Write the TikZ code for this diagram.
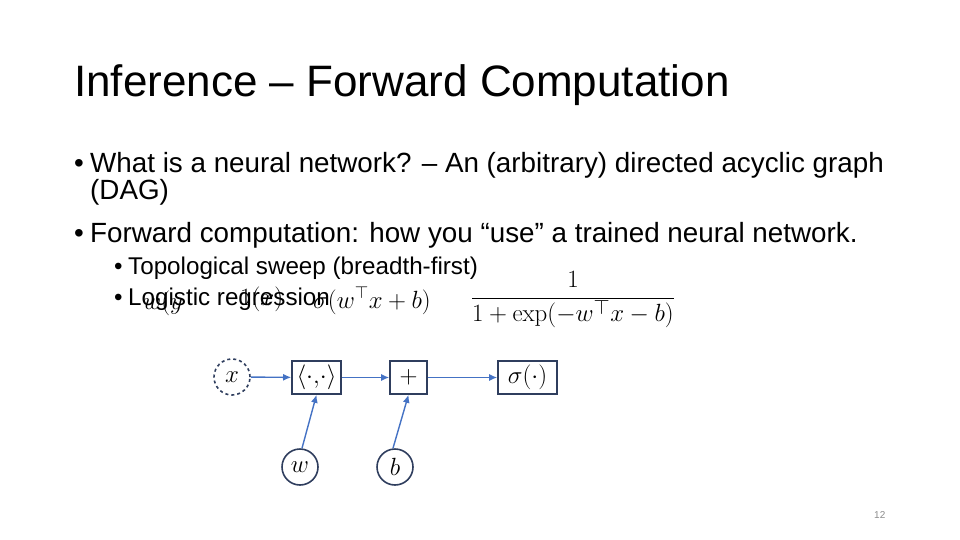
\documentclass[tikz,border=0pt]{standalone}
\usepackage[no-math]{fontspec}
\setmainfont{Liberation Sans}
\usetikzlibrary{positioning,arrows.meta}

\definecolor{nodeline}{RGB}{47,62,94}
\definecolor{edgeblue}{RGB}{68,114,196}
\definecolor{pagegray}{RGB}{140,140,140}

\tikzset{
  var/.style={circle, draw=nodeline, line width=1.6pt, minimum size=36pt, inner sep=0pt,
    font=\fontsize{32}{32}\selectfont},
  input/.style={var, dashed},
  op/.style={rectangle, draw=nodeline, line width=1.6pt, minimum height=33pt, inner sep=0pt,
    font=\fontsize{32}{32}\selectfont},
  edge/.style={draw=edgeblue, line width=1.4pt, -{Latex[length=8pt,width=7pt]}},
  txt/.style={anchor=base west, inner sep=0pt},
  big/.style={txt, font=\fontsize{27.8}{27.8}\selectfont},
  small/.style={txt, font=\fontsize{24.2}{24.2}\selectfont},
  formula/.style={txt, font=\fontsize{27}{27}\selectfont},
}

\begin{document}
\begin{tikzpicture}[x=1pt,y=-1pt]
  \useasboundingbox (0,0) rectangle (960,540);
  % title and bullets
  \node[txt, font=\fontsize{44}{44}\selectfont] (title) at (74,97) {Inference -- Forward Computation};
  \node[big] (d1) at (74,172) {\textbullet};
  \node[big] (b1) at (90,172) {What is a neural network? -- An (arbitrary) directed acyclic graph};
  \node[big] (b1b) at (90,199) {(DAG)};
  \node[big] (d2) at (74,242) {\textbullet};
  \node[big] (b2) at (90,242) {Forward computation: how you “use” a trained neural network.};
  \node[small] (d3) at (114,274) {\textbullet};
  \node[small] (s1) at (128,274) {Topological sweep (breadth-first)};
  \node[small] (d4) at (114,305) {\textbullet};
  \node[small] (s2) at (128,305) {Logistic regression};
  % overlapping formula
  \node[formula] (m1) at (143,309) {$w(y$};
  \node[formula] (m2) at (240,305) {$1(x)$};
  \node[formula] (m3) at (313,308) {$\sigma(w^\top x+b)$};
  \node[anchor=center, inner sep=0pt, font=\fontsize{29}{29}\selectfont] (frac) at (573,300) {$\displaystyle\frac{1}{1+\exp(-w^\top x-b)}$};
  % graph
  \node[input] (x) at (232,377) {$x$};
  \node[op, minimum width=49pt] (dot) at (316.5,377.5) {$\langle\cdot,\!\cdot\rangle$};
  \node[op, minimum width=37pt] (plus) at (408.5,377.5) {$+$};
  \node[op, minimum width=59pt] (sig) at (527.5,377.5) {$\sigma(\cdot)$};
  \node[var] (w) at (300,467) {$w$};
  \node[var] (b) at (395,467) {$b$};
  \draw[edge] (x) -- (dot);
  \draw[edge] (dot) -- (plus);
  \draw[edge] (plus) -- (sig);
  \draw[edge] ([xshift=2pt]w.north) -- (dot.south);
  \draw[edge] ([xshift=-2pt]b.north) -- (plus.south);
  \node[txt, font=\fontsize{10}{10}\selectfont, text=pagegray] (page) at (874,518) {12};
\end{tikzpicture}
\end{document}
